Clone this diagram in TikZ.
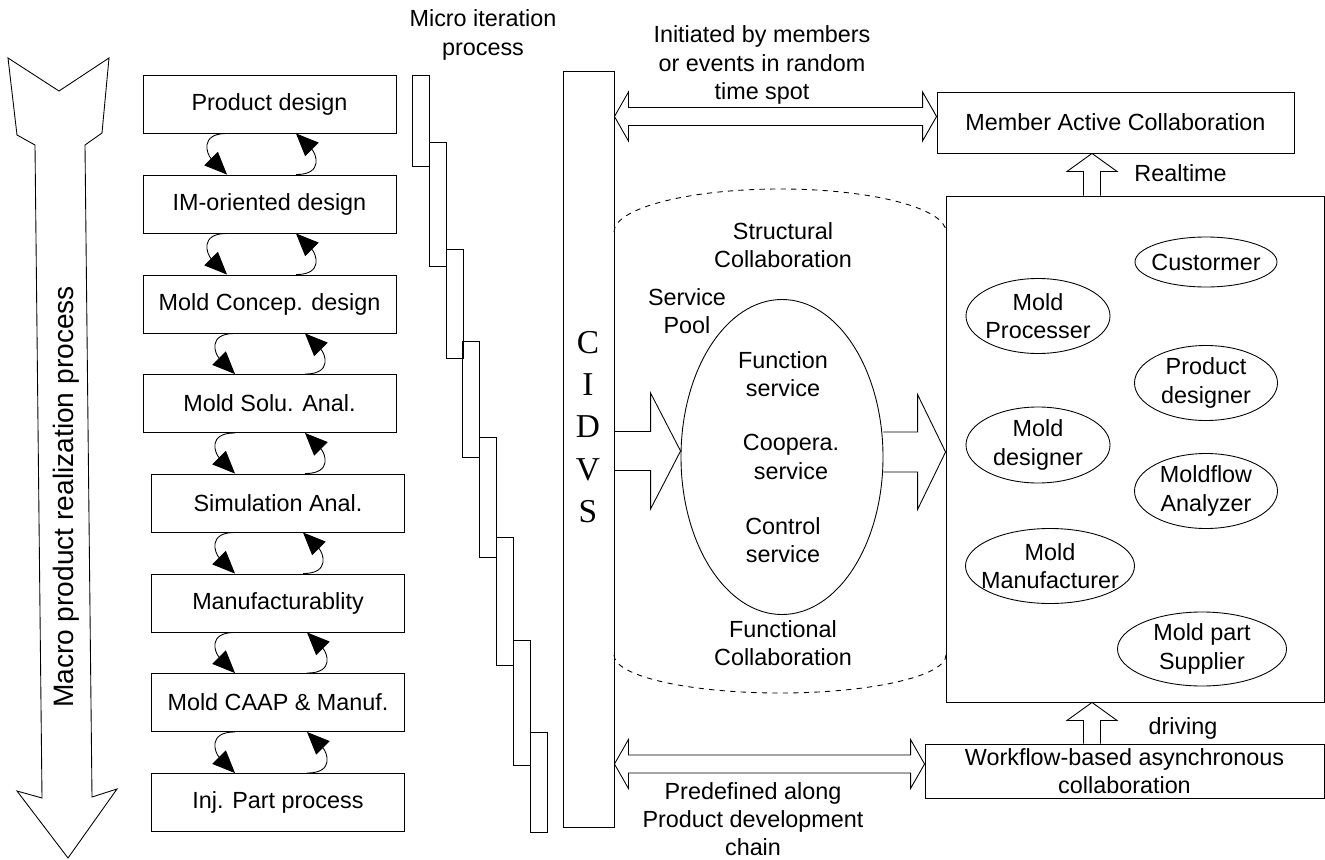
\documentclass[tikz,border=0pt]{standalone}
\usepackage{fontspec}
\setmainfont{Liberation Sans}
\newfontfamily\barletters{Liberation Serif}
\usetikzlibrary{calc,shapes.geometric,arrows.meta}

\begin{document}
\begin{tikzpicture}[x=0.2mm, y=-0.2mm, line width=0.5pt,
    font=\fontsize{13.3}{16}\selectfont,
    txt/.style={align=center, inner sep=0pt},
    stepbox/.style={draw, minimum width=50.6mm, minimum height=11.6mm, inner sep=0pt},
    plainbox/.style={draw, inner sep=0pt},
    member/.style={draw, ellipse, inner sep=0pt, minimum width=28.8mm, minimum height=15mm},
    cycarrow/.style={-{Triangle[length=4.5mm, width=3.8mm]}}]
\useasboundingbox (0,0) rectangle (1325,860);

% Hollow double arrow between two tips (left, right)
\def\TwoWay#1#2{
    \draw (#1) -- ($(#1)+(14,-24.5)$) -- ($(#1)+(14,-9)$) -- ($(#2)+(-14,-9)$) -- ($(#2)+(-14,-24.5)$) -- (#2)
        -- ($(#2)+(-14,24.5)$) -- ($(#2)+(-14,9)$) -- ($(#1)+(14,9)$) -- ($(#1)+(14,24.5)$) -- cycle;
}

% Macro process arrow
\draw (8,58) -- (59,91) -- (109,58) -- (102,133) -- (85,145) -- (92,797) -- (117,789) -- (68,858)
    -- (17,791) -- (42,798) -- (35,145) -- (17,135) -- cycle;
\node[txt, rotate=90, anchor=base, font=\fontsize{16}{19}\selectfont] (macro) at (73,497) {Macro product realization process};

% Process steps
\foreach \i/\x/\y/\t in {1/269.5/104/Product design, 2/269.5/204/IM-oriented design, 3/269.5/304/Mold Concep. design,
    4/269.5/403.5/Mold Solu. Anal., 5/278/503/Simulation Anal., 6/278/603/Manufacturablity,
    7/278/702.5/Mold CAAP \& Manuf., 8/278/802.5/Inj. Part process}
    \node[stepbox] (s\i) at (\x,\y) {\t};

% Iteration loops between neighbouring steps
\foreach \i/\j/\l/\r in {1/2/-42.5/26.5, 2/3/-42.5/26.5, 3/4/-34.5/35.5, 4/5/-34.5/35.5, 5/6/-43/25, 6/7/-43/29, 7/8/-43/29}{
    \coordinate (dn\i) at ($(s\i.south)+(\l,0)$);
    \coordinate (up\i) at ($(s\i.south)+(\r,0)$);
    \draw[cycarrow] (dn\i) .. controls +(-28,0) and +(-20,-20) .. (dn\i |- s\j.north);
    \draw[cycarrow] (up\i |- s\j.north) .. controls +(28,0) and +(20,20) .. (up\i);
}

% Micro iteration stairs
\foreach \x/\ya/\yb in {412/75/166, 429/142/266, 446/249/358, 462/341/457, 479/437/557, 496/537/665, 513/640/765, 530/732/832}
    \draw (\x,\ya) rectangle (\x+17,\yb);
\node[txt] (micro) at (483,35) {Micro iteration\\process};

% CIDVS bar
\node[plainbox, minimum width=10.2mm, minimum height=151.2mm] (cidvs) at (588.5,449) {};
\node[txt, font=\barletters\fontsize{19}{24}\selectfont] (letters) at (588,427) {C\\I\\D\\V\\S};

% Collaboration boxes
\node[plainbox, minimum width=71.4mm, minimum height=12.2mm] (active) at (1115.5,122.5) {Member Active Collaboration};
\node[plainbox, minimum width=75.6mm, minimum height=101.2mm] (team) at (1135,449) {};
\node[plainbox, minimum width=79.8mm, minimum height=10.8mm, align=center] (flow) at (1124.5,771) {Workflow-based asynchronous\\collaboration};

% Service pool cylinder
\draw[dashed] (614,232) arc[start angle=180, end angle=360, x radius=166, y radius=43];
\draw[dashed] (614,655) arc[start angle=180, end angle=0, x radius=166, y radius=38];
\node[draw, ellipse, inner sep=0pt, minimum width=40.4mm, minimum height=63mm] (pool) at (782,457) {};
\node[txt] (struct) at (783,245) {Structural\\Collaboration};
\node[txt] (spool) at (687,311) {Service\\Pool};
\node[txt] (fsrv) at (783,374) {Function\\service};
\node[txt] (csrv) at (791,457) {Coopera.\\service};
\node[txt] (ksrv) at (783,540) {Control\\service};
\node[txt] (funct) at (783,643) {Functional\\Collaboration};

% Members
\node[member, minimum width=28.4mm, minimum height=10mm, label={[txt]center:Custormer}] (cust) at (1206,262) {};
\node[member, label={[txt]center:{Mold\\Processer}}] (proc) at (1038,316) {};
\node[member, minimum width=28.6mm, label={[txt]center:{Product\\designer}}] (pdes) at (1206,383) {};
\node[member, minimum height=15.2mm, label={[txt]center:{Mold\\designer}}] (mdes) at (1038,445) {};
\node[member, minimum width=28.6mm, label={[txt]center:{Moldflow\\Analyzer}}] (flowan) at (1206,491) {};
\node[member, minimum width=33.8mm, label={[txt]center:{Mold\\Manufacturer}}] (manu) at (1050,566) {};
\node[member, minimum width=33.8mm, minimum height=14.8mm, label={[txt]center:{Mold part\\Supplier}}] (supp) at (1202,649) {};

% CIDVS -> service pool
\coordinate (pin) at ($(pool.west)+(0,-6)$);
\draw ($(cidvs.east |- pin)+(0,-19.5)$) -- ($(pin)+(-30,-19.5)$) -- ($(pin)+(-30,-58)$) -- (pin)
    -- ($(pin)+(-30,58)$) -- ($(pin)+(-30,19.5)$) -- ($(cidvs.east |- pin)+(0,19.5)$);

% Service pool -> members
\coordinate (tin) at ($(team.west)+(0,3)$);
\draw ($(pool.east |- tin)+(0,-20)$) -- ($(tin)+(-28,-20)$) -- ($(tin)+(-28,-57.5)$) -- (tin)
    -- ($(tin)+(-28,57.5)$) -- ($(tin)+(-28,20)$) -- ($(pool.east |- tin)+(0,20)$);

% Realtime
\coordinate (rt) at ($(active.south)+(-23.5,0)$);
\draw ($(rt |- team.north)+(-8.5,0)$) -- ($(rt)+(-8.5,18)$) -- ($(rt)+(-25,18)$) -- (rt)
    -- ($(rt)+(25,18)$) -- ($(rt)+(8.5,18)$) -- ($(rt |- team.north)+(8.5,0)$);
\node[txt, anchor=west] (rtlabel) at (1134,173) {Realtime};

% driving
\coordinate (dv) at ($(team.south)+(-43,0)$);
\draw ($(dv |- flow.north)+(-8.5,0)$) -- ($(dv)+(-8.5,18)$) -- ($(dv)+(-25,18)$) -- (dv)
    -- ($(dv)+(25,18)$) -- ($(dv)+(8.5,18)$) -- ($(dv |- flow.north)+(8.5,0)$);
\node[txt] (dvlabel) at (1183,728) {driving};

% Two-way links to the bar
\coordinate (tl) at ($(cidvs.east |- active.west)+(0,-6)$);
\coordinate (tr) at ($(active.west)+(0,-6)$);
\TwoWay{tl}{tr}
\node[txt] (init) at (762,65) {Initiated by members\\or events in random\\time spot};

\coordinate (bl) at ($(cidvs.east |- flow.west)+(0,-7)$);
\coordinate (br) at ($(flow.west)+(0,-7)$);
\TwoWay{bl}{br}
\node[txt] (predef) at (753,819) {Predefined along\\Product development\\chain};
\end{tikzpicture}
\end{document}
